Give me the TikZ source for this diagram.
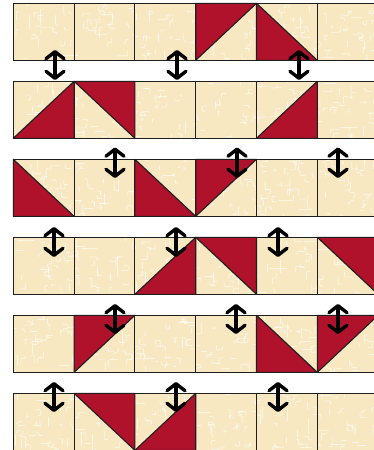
\documentclass[tikz,border=0pt]{standalone}
\usetikzlibrary{arrows.meta}
\definecolor{cream}{RGB}{247,232,194}
\definecolor{quiltred}{RGB}{176,18,44}
\definecolor{edge}{RGB}{30,30,30}
\tikzset{
  sq/.style={draw=edge, line width=1.1pt, minimum width=60.8pt, minimum height=57pt,
    inner sep=0pt, outer sep=0pt, anchor=north west},
  tri/.style={fill=quiltred, draw=edge, line width=1.1pt, line join=round},
  fleck/.style={white, opacity=.6, line width=.8pt, rounded corners=1pt},
  swap/.style={line width=3.4pt, black,
    {Straight Barb[length=7pt,width=18pt,round]}-{Straight Barb[length=7pt,width=18pt,round]}},
}
\newcommand\triUL[1]{\filldraw[tri] (#1.north west) -- (#1.north east) -- (#1.south west) -- cycle;}
\newcommand\triUR[1]{\filldraw[tri] (#1.north west) -- (#1.north east) -- (#1.south east) -- cycle;}
\newcommand\triLL[1]{\filldraw[tri] (#1.north west) -- (#1.south west) -- (#1.south east) -- cycle;}
\newcommand\triLR[1]{\filldraw[tri] (#1.south west) -- (#1.south east) -- (#1.north east) -- cycle;}
\begin{document}
\begin{tikzpicture}[x=1pt,y=-1pt]
\useasboundingbox (0,0) rectangle (374,450);
\clip (0,0) rectangle (374,450);
\fill[white] (0,0) rectangle (374,450);
% fabric background of the rows
\pgfmathsetseed{42}
\foreach \r in {0,...,5}{
  \begin{scope}
    \clip (13.3,{3.3+78*\r}) rectangle (380,{60.3+78*\r});
    \fill[cream] (13.3,{3.3+78*\r}) rectangle (380,{60.3+78*\r});
    \foreach \i in {1,...,170}{
      \pgfmathsetmacro\xx{13.3+rnd*365}
      \pgfmathsetmacro\yy{3.3+78*\r+rnd*57}
      \draw[fleck] (\xx,\yy) -- ++({90*int(4*rnd)}:{2+4*rnd})
        -- ++({90*int(4*rnd)}:{2+4*rnd}) -- ++({90*int(4*rnd)}:{2+4*rnd});
    }
  \end{scope}
}
% squares
\foreach \r in {0,...,5}{
  \foreach \c in {0,...,5}{
    \node[sq] (r\r-\c) at ({13.3+60.8*\c},{3.3+78*\r}) {};
  }
}
% red half-square triangles
\triUL{r0-3} \triLL{r0-4}
\triLR{r1-0} \triUR{r1-1} \triLR{r1-4}
\triLL{r2-0} \triLL{r2-2} \triUL{r2-3}
\triLR{r3-2} \triUR{r3-3} \triUR{r3-5}
\triUL{r4-1} \triLL{r4-4} \triUL{r4-5}
\triUR{r5-1} \triLR{r5-2}
% swap arrows
\foreach \n/\x/\ya/\yb in {a/55/50/80, b/177/50/80, c/299/50/80,
  d/115/147.5/178, e/237/147.5/178, f/338/147.5/178,
  g/54/227/257, h/176/227/257, i/278/227/257,
  j/115/304/334, k/236/304/334, l/338/304/334,
  m/54/382/412, n/176/382/412, o/278/382/412}{
  \coordinate (\n t) at (\x,\ya);
  \coordinate (\n b) at (\x,\yb);
  \draw[swap] (\n t) -- (\n b);
}
\end{tikzpicture}
\end{document}
